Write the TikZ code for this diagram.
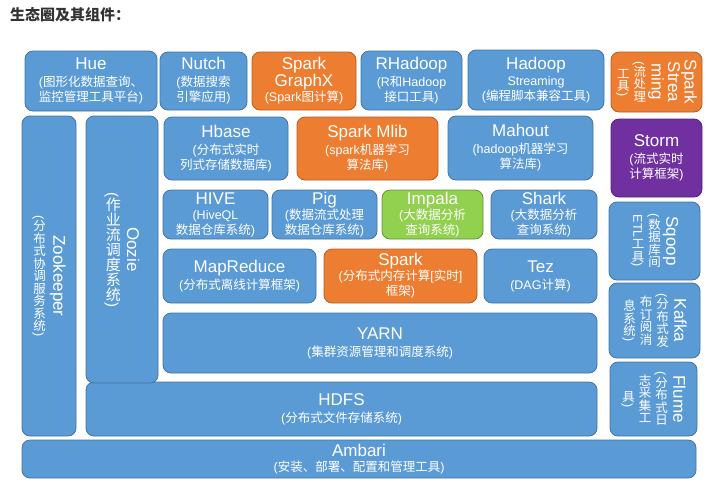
\documentclass[tikz,border=0pt]{standalone}
\usepackage{fontspec}
\usepackage{graphicx}
\setmainfont{Liberation Sans}
\newfontfamily\cjkfont{Noto Sans CJK SC}
% switch to the CJK font for Chinese characters
\newcount\cjkcnt
\newXeTeXintercharclass\cjkclass
\def\setcjkrange#1#2{\cjkcnt=#1 \loop\XeTeXcharclass\cjkcnt=\cjkclass \advance\cjkcnt by 1 \ifnum\cjkcnt<#2 \repeat}
\setcjkrange{"3000}{"3040}
\setcjkrange{"4E00}{"A000}
\setcjkrange{"FF00}{"FFF0}
\XeTeXinterchartoks 0 \cjkclass = {\cjkfont}
\XeTeXinterchartoks 4095 \cjkclass = {\cjkfont}
\XeTeXinterchartoks \cjkclass 0 = {\rmfamily}
\XeTeXinterchartoks \cjkclass 4095 = {\rmfamily}
\XeTeXinterchartokenstate=1
\usepackage{tikz}
\definecolor{hblue}{HTML}{5B9BD5}
\definecolor{horange}{HTML}{ED7D31}
\definecolor{hgreen}{HTML}{92D050}
\definecolor{hpurple}{HTML}{7030A0}
\definecolor{titlegray}{HTML}{333333}
\tikzstyle{block}=[rectangle, rounded corners=8pt, draw
,line width=0.8pt
,text=white
,inner sep=0pt, outer sep=0pt
,align=center
,font=\fontsize{12.5}{15}\selectfont
]
\tikzstyle{vblock}=[block, rotate=-90, font=\fontsize{12.5}{16.5}\selectfont]
\newcommand{\hd}[1]{{\fontsize{17}{20}\selectfont #1}}
% upright Chinese characters in a rotated column
\newcommand{\vc}[1]{\vcloop#1\relax}
\def\vcloop#1{\ifx#1\relax\else\rotatebox[origin=c]{90}{\raisebox{0pt}[0.88em][0.12em]{#1}}\expandafter\vcloop\fi}

\begin{document}
\begin{tikzpicture}[x=1pt,y=-1pt]
    \useasboundingbox (0,0) rectangle (706,483);
    \node[anchor=base west, inner sep=0pt, text=titlegray, font=\fontsize{15}{18}\selectfont\bfseries] (title) at (10,20) {生态圈及其组件：};

    % Blue blocks: corners and text
    \foreach \xa/\ya/\xb/\yb/\name/\txt in {
        25/51/157/111/hue/{\hd{Hue}\\[2pt](图形化数据查询、\\监控管理工具平台)},
        160/52/247/110/nutch/{\hd{Nutch}\\[2pt](数据搜索\\引擎应用)},
        361/51/462/110/rhadoop/{\hd{RHadoop}\\[2pt](R和Hadoop\\接口工具)},
        468/50/604/110/streaming/{\hd{Hadoop}\\[1pt]Streaming\\(编程脚本兼容工具)},
        164/117/288/180/hbase/{\hd{Hbase}\\[2pt](分布式实时\\列式存储数据库)},
        448/116/593/180/mahout/{\hd{Mahout}\\[2pt](hadoop机器学习\\算法库)},
        163/190/268/239/hive/{\hd{HIVE}\\(HiveQL\\数据仓库系统)},
        272/190/377/239/pig/{\hd{Pig}\\(数据流式处理\\数据仓库系统)},
        491/190/597/239/shark/{\hd{Shark}\\(大数据分析\\查询系统)},
        163/249/316/303/mapreduce/{\hd{MapReduce}\\[2pt](分布式离线计算框架)},
        484/249/597/303/tez/{\hd{Tez}\\[2pt](DAG计算)},
        163/313/597/373/yarn/{\hd{YARN}\\[2pt](集群资源管理和调度系统)},
        86/382/597/436/hdfs/{\hd{HDFS}\\[2pt](分布式文件存储系统)},
        22/440/696/478/ambari/{\hd{Ambari}\\(安装、部署、配置和管理工具)}}
        \node[block, fill=hblue, draw=hblue!75!black, minimum width={(\xb-\xa)*1pt}, minimum height={(\yb-\ya)*1pt}] (\name) at ({(\xa+\xb)/2},{(\ya+\yb)/2}) {\txt};

    % Spark blocks
    \foreach \xa/\ya/\xb/\yb/\name/\txt in {
        252/52/356/110/graphx/{\hd{Spark}\\\hd{GraphX}\\(Spark图计算)},
        297/117/438/180/mlib/{\hd{Spark Mlib}\\[2pt](spark机器学习\\算法库)},
        324/249/477/303/spark/{\hd{Spark}\\(分布式内存计算[实时]\\框架)}}
        \node[block, fill=horange, draw=horange!75!black, minimum width={(\xb-\xa)*1pt}, minimum height={(\yb-\ya)*1pt}] (\name) at ({(\xa+\xb)/2},{(\ya+\yb)/2}) {\txt};

    \node[block, fill=hgreen, draw=hgreen!70!black, minimum width=101pt, minimum height=49pt] (impala) at (432.5,214.5) {\hd{Impala}\\(大数据分析\\查询系统)};
    \node[block, fill=hpurple, draw=hpurple!75!black, minimum width=91pt, minimum height=78pt] (storm) at (656.5,158) {\hd{Storm}\\[2pt](流式实时\\计算框架)};

    % Upright columns
    \foreach \xa/\ya/\xb/\yb/\name/\txt in {
        22/116/76/436/zookeeper/{\hd{Zookeeper}\\[2pt](\vc{分布式协调服务系统})},
        86/116/158/383/oozie/{\hd{Oozie}\\[3pt]{\fontsize{15}{18}\selectfont(\vc{作业流调度系统})}},
        609/202/700/280/sqoop/{\hd{Sqoop}\\(\vc{数据库间}\\ETL\vc{工具})},
        609/283/700/358/kafka/{\hd{Kafka}\\(\vc{分布式发}\\\vc{布订阅消}\\\vc{息系统})},
        610/362/697/436/flume/{\hd{Flume}\\(\vc{分布式日}\\\vc{志采集工}\\\vc{具})}}
        \node[vblock, fill=hblue, draw=hblue!75!black, minimum width={(\yb-\ya)*1pt}, minimum height={(\xb-\xa)*1pt}] (\name) at ({(\xa+\xb)/2},{(\ya+\yb)/2}) {\txt};

    \node[vblock, fill=horange, draw=horange!75!black, minimum width=60pt, minimum height=91pt] (sstreaming) at (656.5,82) {\hd{Spark}\\\hd{Strea}\\\hd{ming}\\(\vc{流处理}\\\vc{工具})};
\end{tikzpicture}
\end{document}
